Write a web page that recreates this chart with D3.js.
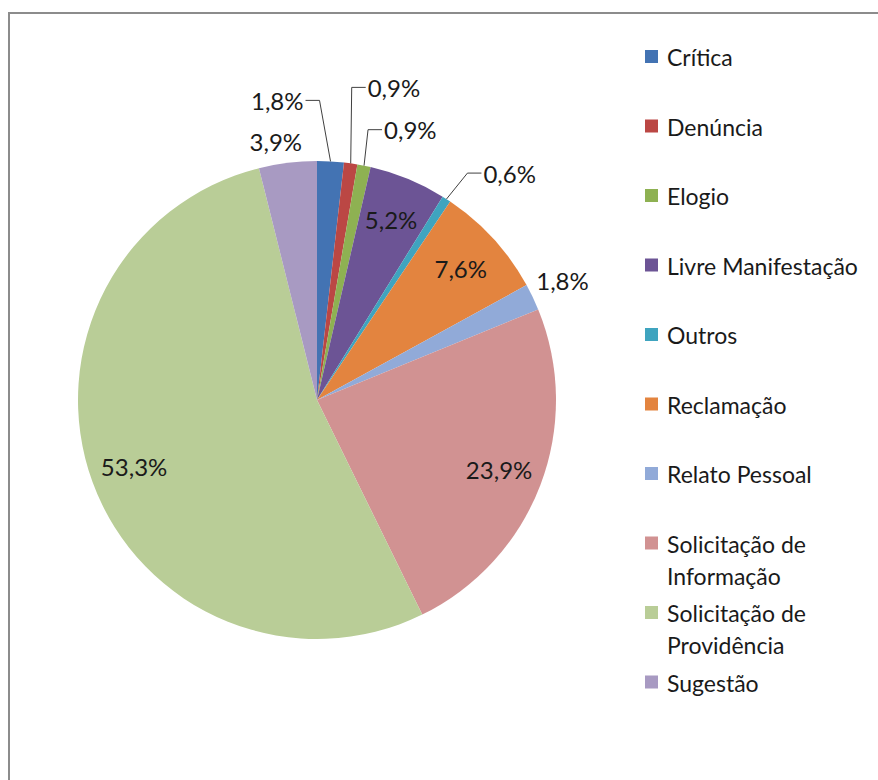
<!DOCTYPE html>
<html>
<head>
<meta charset="utf-8">
<script src="https://cdn.jsdelivr.net/npm/d3@7"></script>
<style>
  body { margin: 0; background: #fff; }
  svg text { font-family: Lato, "Open Sans", sans-serif; fill: #1a1a1a; }
</style>
</head>
<body>
<div id="chart"></div>
<script>
// categories, values (percent), colours
var categories = ['Crítica', 'Denúncia', 'Elogio', 'Livre Manifestação', 'Outros', 'Reclamação',
    'Relato Pessoal', 'Solicitação de Informação', 'Solicitação de Providência', 'Sugestão'];
var values = [1.8, 0.9, 0.9, 5.2, 0.6, 7.6, 1.8, 23.9, 53.3, 3.9];
var labels = ['1,8%', '0,9%', '0,9%', '5,2%', '0,6%', '7,6%', '1,8%', '23,9%', '53,3%', '3,9%'];
var legend_lines = [['Crítica'], ['Denúncia'], ['Elogio'], ['Livre Manifestação'], ['Outros'], ['Reclamação'],
    ['Relato Pessoal'], ['Solicitação de', 'Informação'], ['Solicitação de', 'Providência'], ['Sugestão']];
var colors = ['#4373b3', '#bb4744', '#8eb152', '#6c5495', '#3fa4bf', '#e3843f',
    '#91aad8', '#d19292', '#b9cd97', '#a89ac2'];

// how each label is placed: 'in' = inside, 'out' = outside end, 'lead' = moved with leader line
var label_mode = ['lead', 'lead', 'lead', 'in', 'lead', 'in', 'out', 'in', 'in', 'out'];
// offset of moved labels from the slice's outer point (dx, dy), and the side the text sits on
var lead_offset = {0: [-27, -61, 'end'], 1: [17, -76, 'start'], 2: [20, -36, 'start'], 4: [37, -26, 'start']};

var width = 878, height = 780;
var cx = 317, cy = 400, radius = 239;

var svg = d3.select('#chart').append('svg')
    .attr('width', width)
    .attr('height', height);

// frame
svg.append('rect')
    .attr('x', 9).attr('y', 13)
    .attr('width', 950).attr('height', 850)
    .attr('fill', 'none')
    .attr('stroke', '#8c8c8c')
    .attr('stroke-width', 2);

var pie = d3.pie().sort(null).value(d => d);
var arcs = pie(values);
var arc = d3.arc().innerRadius(0).outerRadius(radius);
var g = svg.append('g').attr('transform', `translate(${cx},${cy})`);

g.selectAll('path')
    .data(arcs)
    .enter()
    .append('path')
    .attr('d', arc)
    .attr('fill', (d, i) => colors[i]);

function mid(d) { return (d.startAngle + d.endAngle) / 2; }
function polar(a, r) { return [Math.sin(a) * r, -Math.cos(a) * r]; }

var fs = 24;
arcs.forEach(function (d, i) {
    var a = mid(d);
    var mode = label_mode[i];
    if (mode == 'in') {
        var p = polar(a, radius * 0.815);
        g.append('text')
            .attr('x', p[0]).attr('y', p[1])
            .attr('text-anchor', 'middle')
            .attr('dominant-baseline', 'central')
            .style('font-size', fs + 'px')
            .text(labels[i]);
    } else if (mode == 'out') {
        var p = polar(a, radius + 8);
        var sx = Math.sign(Math.sin(a)), sy = Math.cos(a) >= 0 ? -1 : 1;
        var x = p[0] + sx * Math.max(Math.abs(Math.sin(a)) * 25, 11), y = p[1] + sy * 13;
        g.append('text')
            .attr('x', x).attr('y', y)
            .attr('text-anchor', 'middle')
            .attr('dominant-baseline', 'central')
            .style('font-size', fs + 'px')
            .text(labels[i]);
    } else {
        var p = polar(a, radius);
        var off = lead_offset[i];
        var lx = p[0] + off[0], ly = p[1] + off[1];
        var dir = off[2] == 'start' ? -1 : 1;
        var elbow = [lx + dir * 16, ly];
        g.append('polyline')
            .attr('points', [p, elbow, [lx + dir * 2, ly]].map(q => q.join(',')).join(' '))
            .attr('fill', 'none')
            .attr('stroke', '#404040')
            .attr('stroke-width', 1);
        g.append('text')
            .attr('x', lx).attr('y', ly)
            .attr('text-anchor', off[2])
            .attr('dominant-baseline', 'central')
            .style('font-size', fs + 'px')
            .text(labels[i]);
    }
});

// legend
var legend = svg.append('g').attr('transform', 'translate(645,57)');
var item = legend.selectAll('g')
    .data(categories)
    .enter()
    .append('g')
    .attr('transform', (d, i) => `translate(0,${i * 69.5})`);

item.append('rect')
    .attr('x', 0).attr('y', -7)
    .attr('width', 13).attr('height', 13)
    .attr('fill', (d, i) => colors[i]);

item.append('text')
    .attr('x', 22)
    .attr('dominant-baseline', 'central')
    .style('font-size', '23px')
    .selectAll('tspan')
    .data((d, i) => legend_lines[i])
    .enter()
    .append('tspan')
    .attr('x', 22)
    .attr('y', (d, j) => j * 32)
    .text(d => d);
</script>
</body>
</html>
